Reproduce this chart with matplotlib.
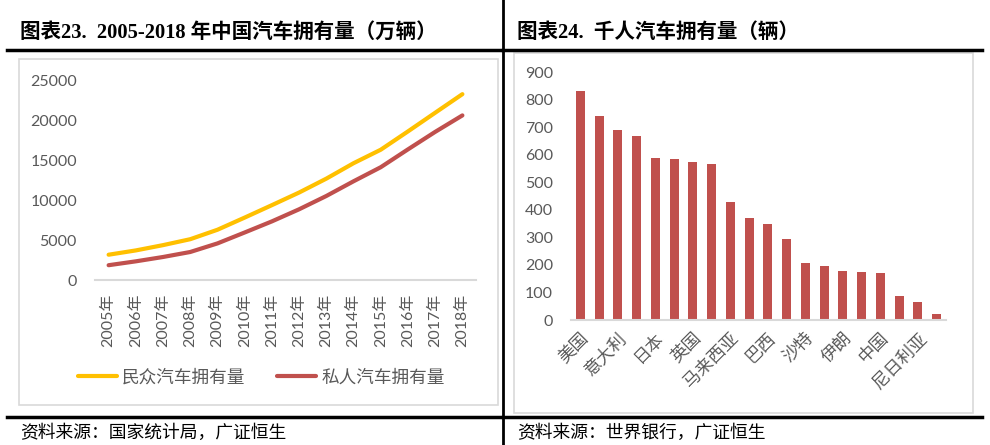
import matplotlib.pyplot as plt
from matplotlib.lines import Line2D
from matplotlib.patches import Rectangle
import numpy as np

plt.rcParams['font.family'] = ['Lato', 'Noto Sans CJK SC', 'DejaVu Sans']

# 数据：图表23
years = ['2005年', '2006年', '2007年', '2008年', '2009年', '2010年', '2011年',
         '2012年', '2013年', '2014年', '2015年', '2016年', '2017年', '2018年']
civil_cars = [3160, 3697, 4358, 5100, 6281, 7802, 9356,
              10933, 12670, 14598, 16285, 18575, 20907, 23231]
private_cars = [1848, 2333, 2876, 3501, 4575, 5939, 7327,
                8839, 10502, 12339, 14099, 16330, 18515, 20575]

# 数据：图表24
countries = ['美国', '', '意大利', '', '日本', '', '英国', '', '马来西亚', '',
             '巴西', '', '沙特', '', '伊朗', '', '中国', '', '尼日利亚', '']
per_thousand = [834, 743, 692, 668, 589, 585, 576, 567, 430, 371,
                348, 295, 207, 198, 177, 173, 172, 86, 64, 21]

W, H = 990, 445
fig = plt.figure(figsize=(W / 100, H / 100), dpi=100)


def px_axes(x0, x1, ytop, ybot):
    return fig.add_axes([x0 / W, (H - ybot) / H, (x1 - x0) / W, (ybot - ytop) / H])


def hline(x0, x1, y, lw=2.2):
    fig.add_artist(Line2D([x0 / W, x1 / W], [(H - y) / H, (H - y) / H], color='black', lw=lw))


def box(x0, x1, ytop, ybot):
    fig.add_artist(Rectangle((x0 / W, (H - ybot) / H), (x1 - x0) / W, (ybot - ytop) / H,
                             fill=False, edgecolor='#d9d9d9', lw=1.2))


title_font = ['Liberation Serif', 'Noto Sans CJK SC']
src_font = ['Noto Sans CJK SC']
grey = '#595959'

# 标题与框线
fig.text(20 / W, (H - 33) / H, '图表23.  2005-2018 年中国汽车拥有量（万辆）', family=title_font,
         fontsize=14.8, fontweight='bold', va='center', ha='left')
fig.text(517 / W, (H - 33) / H, '图表24.  千人汽车拥有量（辆）', family=title_font,
         fontsize=14.8, fontweight='bold', va='center', ha='left')
hline(7, 500, 50, 2.5)
hline(503, 982, 50, 2.5)
hline(7, 500, 416.5, 2.5)
hline(503, 982, 416.5, 2.5)
fig.add_artist(Line2D([503 / W, 503 / W], [0, 1], color='black', lw=2))
box(19, 498, 59, 405)
box(514, 973, 53, 413)
fig.text(20 / W, (H - 433) / H, '资料来源：国家统计局，广证恒生', family=src_font,
         fontsize=12.8, va='center', ha='left')
fig.text(517 / W, (H - 433) / H, '资料来源：世界银行，广证恒生', family=src_font,
         fontsize=12.8, va='center', ha='left')

# 左图：折线
ax1 = px_axes(95, 476, 80, 280)
x = np.arange(len(years))
ax1.plot(x, civil_cars, color='#FFC000', lw=3, label='民众汽车拥有量', solid_capstyle='round')
ax1.plot(x, private_cars, color='#C0504D', lw=3, label='私人汽车拥有量', solid_capstyle='round')
ax1.set_xlim(-0.5, len(years) - 0.5)
ax1.set_ylim(0, 25000)
ax1.set_yticks(np.arange(0, 25001, 5000))
ax1.set_xticks(x)
ax1.set_xticklabels(years, rotation=90)
for s in ['top', 'right', 'left']:
    ax1.spines[s].set_visible(False)
ax1.spines['bottom'].set_color('#d9d9d9')
ax1.spines['bottom'].set_linewidth(1.5)
ax1.tick_params(length=0, colors=grey, labelsize=11.5)
ax1.tick_params(axis='y', pad=13)
ax1.tick_params(axis='x', pad=10)
ax1.patch.set_alpha(0)
leg = ax1.legend(loc='center', bbox_to_anchor=(0.437, -0.485), ncol=2, frameon=False,
                 fontsize=12.7, handlelength=2.2, columnspacing=1.8, handletextpad=0.3)
for t in leg.get_texts():
    t.set_color(grey)

# 右图：柱状
ax2 = px_axes(571, 946, 72.5, 320)
xb = np.arange(len(per_thousand))
ax2.bar(xb, per_thousand, width=0.48, color='#C0504D')
ax2.set_xlim(-0.5, len(per_thousand) - 0.5)
ax2.set_ylim(0, 900)
ax2.set_yticks(np.arange(0, 901, 100))
ax2.set_xticks(xb)
ax2.set_xticklabels(countries, rotation=45, ha='right', rotation_mode='anchor')
for s in ['top', 'right', 'left']:
    ax2.spines[s].set_visible(False)
ax2.spines['bottom'].set_color('#d9d9d9')
ax2.spines['bottom'].set_linewidth(1.5)
ax2.tick_params(length=0, colors=grey, labelsize=11.5)
ax2.tick_params(axis='x', labelsize=12.5, pad=7)
ax2.tick_params(axis='y', pad=13)
ax2.patch.set_alpha(0)

fig.savefig('out.png', dpi=100)
